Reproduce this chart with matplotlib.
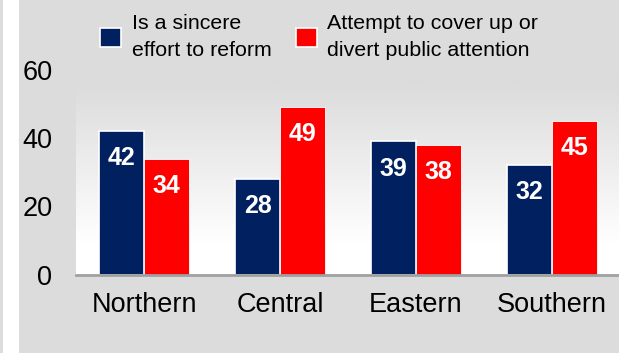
import matplotlib
matplotlib.use("Agg")
import matplotlib.pyplot as plt
from matplotlib.patches import Patch, Rectangle
import numpy as np

plt.rcParams['font.family'] = ['Liberation Sans', 'DejaVu Sans']

regions = ["Northern", "Central", "Eastern", "Southern"]
sincere = [42, 28, 39, 32]
cover_up = [34, 49, 38, 45]
series_labels = ["Is a sincere\neffort to reform",
                 "Attempt to cover up or\ndivert public attention"]
yticks = [0, 20, 40, 60]

NAVY = "#002060"
RED = "#FF0000"
BG = "#DCDCDC"

W, H = 619, 353
fig = plt.figure(figsize=(W / 100, H / 100), dpi=100, facecolor=BG)

# white strip along the left edge
fig.patches.append(Rectangle((3 / W, 0), 16 / W, 1, transform=fig.transFigure,
                             facecolor="white", edgecolor="none", zorder=0))

ax = fig.add_axes([76 / W, 78 / H, 544 / W, 205.5 / H])
ax.set_facecolor(BG)

# plot area gradient: grey at top fading to white at bottom
grad = np.linspace(0, 1, 256).reshape(-1, 1)
cmap = matplotlib.colors.LinearSegmentedColormap.from_list(
    "g", [(0, BG), (0.08, BG), (0.85, "#FFFFFF"), (1, "#FFFFFF")])
ax.imshow(grad, aspect="auto", cmap=cmap, extent=[0, 1, 0, 1],
          transform=ax.transAxes, zorder=0)

x = np.arange(len(regions))
w = 0.33
b1 = ax.bar(x - w / 2, sincere, w, color=NAVY, edgecolor="white", linewidth=1.2, zorder=2)
b2 = ax.bar(x + w / 2, cover_up, w, color=RED, edgecolor="white", linewidth=0.6, zorder=2)

for bars, vals in ((b1, sincere), (b2, cover_up)):
    for rect, v in zip(bars, vals):
        ax.annotate(str(v), (rect.get_x() + rect.get_width() / 2, v),
                    xytext=(0, -19.5), textcoords="offset points",
                    ha="center", va="center", color="white",
                    fontsize=18, fontweight="bold", zorder=3)

ax.set_xlim(-0.5, 3.5)
ax.set_ylim(0, 60)
ax.set_yticks(yticks)
ax.set_xticks(x)
ax.set_xticklabels(regions)
ax.tick_params(axis="both", length=0, labelsize=19.5)
ax.tick_params(axis="x", pad=12)
ax.tick_params(axis="y", pad=17)
for s in ("top", "right", "left"):
    ax.spines[s].set_visible(False)
ax.spines["bottom"].set_color("#A0A0A0")
ax.spines["bottom"].set_linewidth(2)
ax.spines["bottom"].set_zorder(4)

handles = [Patch(facecolor=NAVY, edgecolor="white", linewidth=1.2),
           Patch(facecolor=RED, edgecolor="white", linewidth=1.2)]
leg = fig.legend(handles, series_labels, ncol=2, loc="center left",
                 bbox_to_anchor=(100 / W, 1 - 37 / H), frameon=False, fontsize=15.4,
                 handlelength=0.98, handleheight=0.98, handletextpad=0.51,
                 columnspacing=1.12, borderpad=0, borderaxespad=0)
for t in leg.get_texts():
    t.set_linespacing(1.55)

fig.savefig("out.png", dpi=100, facecolor=BG)
